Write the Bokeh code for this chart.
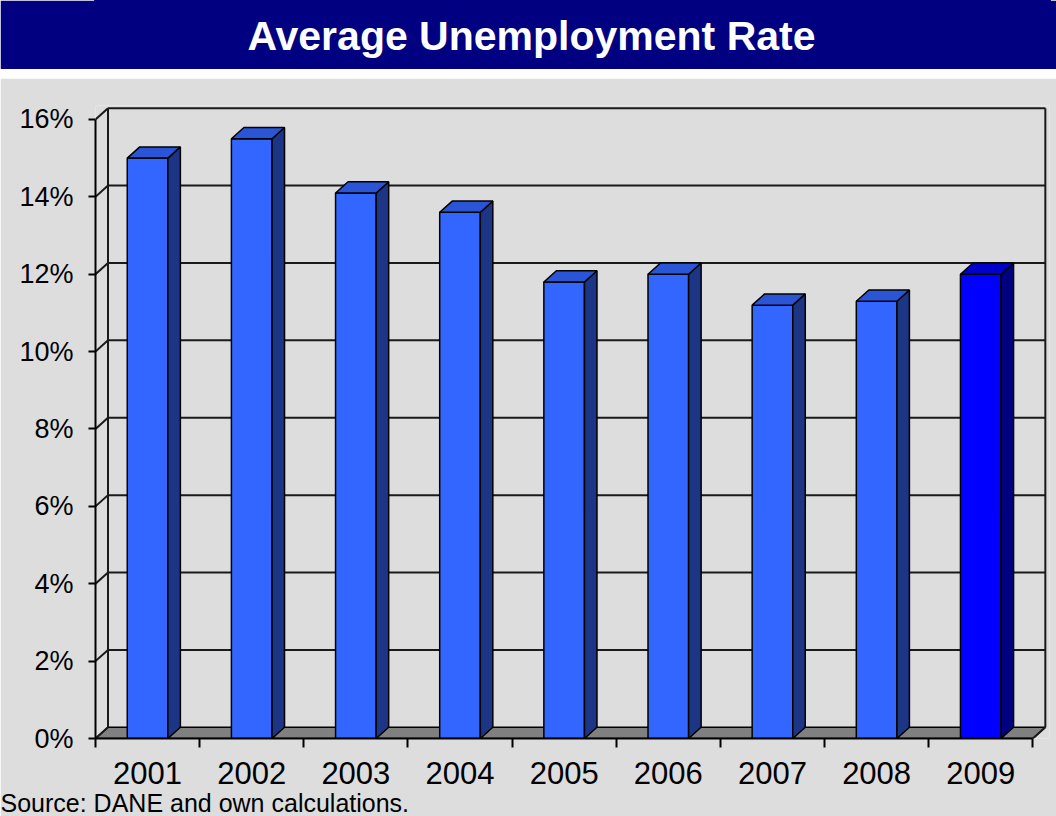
import numpy as np
from bokeh.plotting import figure
from bokeh.models import ColumnDataSource, FixedTicker, Range1d, Title, PrintfTickFormatter, Spacer
from bokeh.layouts import column
from bokeh.embed import file_html
from bokeh.resources import INLINE
from bokeh.core.properties import value

# ---------------- data ----------------
years = ["2001", "2002", "2003", "2004", "2005", "2006", "2007", "2008", "2009"]
rates = [15.0, 15.5, 14.1, 13.6, 11.8, 12.0, 11.2, 11.3, 12.0]
y_ticks = [0, 2, 4, 6, 8, 10, 12, 14, 16]
title_text = "Average Unemployment Rate"
source_text = "Source: DANE and own calculations."
highlight_year = "2009"

# ---------------- geometry / style ----------------
FONT_NAME = "Liberation Sans"
FONT = value(FONT_NAME)
W = 1056
BL, BR = 95, 7               # left / right borders (shared by both figures)
DX, DY = 0.12, 0.29          # 3-D depth offset (x units, % units)
BAR_W = 0.39
n = len(years)
ymax = y_ticks[-1]
centers = np.arange(n) + 0.5
x0 = centers - BAR_W / 2
x1 = centers + BAR_W / 2
vals = np.array(rates)

front_col = ["#0000FF" if y == highlight_year else "#3366FF" for y in years]
side_col = ["#000080" if y == highlight_year else "#1C3585" for y in years]
top_col = ["#0000CC" if y == highlight_year else "#2A55D6" for y in years]

NAVY = "#000080"
GRAY = "#DDDDDD"

# ---------------- title bar ----------------
t = figure(width=W, height=69, x_range=Range1d(0, 1), y_range=Range1d(0, 69),
           x_axis_type=None, y_axis_type=None, output_backend="svg",
           toolbar_location=None, min_border_left=BL, min_border_right=BR,
           min_border_top=0, min_border_bottom=0)
t.title.visible = False
t.grid.visible = False
t.outline_line_color = NAVY
t.outline_line_width = 3
t.background_fill_color = NAVY
t.border_fill_color = NAVY
t.text(x=[0.457], y=[34], text=[title_text], text_align="center", text_baseline="middle",
       text_color="white", text_font=FONT, text_font_style="bold", text_font_size="41px")

gap = Spacer(width=W, height=9)

# ---------------- main chart ----------------
p = figure(width=W, height=738,
           x_range=Range1d(0, n + DX + 0.04), y_range=Range1d(0, ymax + DY + 0.07),
           output_backend="svg", toolbar_location=None,
           min_border_left=BL, min_border_right=BR, min_border_top=27, min_border_bottom=0)
p.background_fill_color = GRAY
p.border_fill_color = GRAY
p.outline_line_color = None
p.grid.visible = False

# floor
p.patch(x=[0, n, n + DX, DX], y=[0, 0, DY, DY], fill_color="#808080",
        line_color="black", line_width=1.5)

# back-wall grid lines
gy = np.array(y_ticks[1:-1], dtype=float)
p.segment(x0=[DX] * len(gy), y0=gy + DY, x1=[n + DX] * len(gy), y1=gy + DY,
          line_color="#1a1a1a", line_width=2)
# left-wall slanted stubs
ty = np.array(y_ticks, dtype=float)
p.segment(x0=[0] * len(ty), y0=ty, x1=[DX] * len(ty), y1=ty + DY,
          line_color="#1a1a1a", line_width=2)
# wall edges
p.segment(x0=[DX, DX, n + DX, n], y0=[DY, ymax + DY, DY, 0],
          x1=[DX, n + DX, n + DX, n + DX], y1=[ymax + DY, ymax + DY, ymax + DY, DY],
          line_color="#1a1a1a", line_width=2)

# bars: front faces
src = ColumnDataSource(dict(x0=x0, x1=x1, top=vals, fc=front_col))
p.quad(left="x0", right="x1", bottom=0, top="top", source=src,
       fill_color="fc", line_color="black", line_width=1.5)
# side faces
side_xs = [[a, a + DX, a + DX, a] for a in x1]
side_ys = [[0, DY, v + DY, v] for v in vals]
p.patches(xs=side_xs, ys=side_ys, fill_color=side_col, line_color="black", line_width=1.5)
# top faces
top_xs = [[a, b, b + DX, a + DX] for a, b in zip(x0, x1)]
top_ys = [[v, v, v + DY, v + DY] for v in vals]
p.patches(xs=top_xs, ys=top_ys, fill_color=top_col, line_color="black", line_width=1.5)

# axes
xa = p.xaxis[0]
xa.ticker = FixedTicker(ticks=list(centers), minor_ticks=list(range(n + 1)))
xa.major_label_overrides = {float(c): y for c, y in zip(centers, years)}
xa.bounds = (0, n)
xa.axis_line_color = "black"
xa.axis_line_width = 2
xa.major_tick_out = 0
xa.major_tick_in = 0
xa.minor_tick_out = 9
xa.minor_tick_in = 0
xa.minor_tick_line_color = "black"
xa.minor_tick_line_width = 2
xa.major_label_standoff = 14
xa.major_label_text_font = FONT_NAME
xa.major_label_text_font_size = "31px"
xa.major_label_text_color = "black"

ya = p.yaxis[0]
ya.ticker = FixedTicker(ticks=y_ticks, minor_ticks=[])
ya.formatter = PrintfTickFormatter(format="%d%%")
ya.bounds = (0, ymax)
ya.axis_line_color = "black"
ya.axis_line_width = 2
ya.major_tick_out = 7
ya.major_tick_in = 0
ya.major_tick_line_color = "black"
ya.major_tick_line_width = 2
ya.major_label_standoff = 15
ya.major_label_text_font = FONT_NAME
ya.major_label_text_font_size = "27px"
ya.major_label_text_color = "black"

src_title = Title(text=source_text, align="left", offset=-BL, standoff=0,
                  text_font=FONT_NAME, text_font_size="25px", text_font_style="normal",
                  text_color="black")
p.add_layout(src_title, "below")

layout = column(t, gap, p, spacing=0)
open("out.html", "w").write(file_html(layout, INLINE))
